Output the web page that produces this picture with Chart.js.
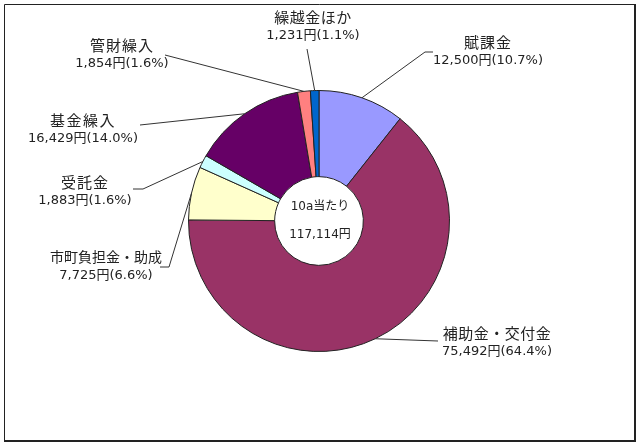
<!DOCTYPE html>
<html>
<head>
<meta charset="utf-8">
<script src="https://cdn.jsdelivr.net/npm/chart.js@4.4.0/dist/chart.umd.min.js"></script>
<style>
  html, body { margin: 0; padding: 0; background: #fff; }
  #wrap { width: 640px; height: 445px; position: relative; }
</style>
</head>
<body>
<div id="wrap"><canvas id="pie" width="640" height="445"></canvas></div>
<script>
// 10a当たり収入の内訳
const labels = ["賦課金", "補助金・交付金", "市町負担金・助成", "受託金", "基金繰入", "管財繰入", "繰越金ほか"];
const amounts = [12500, 75492, 7725, 1883, 16429, 1854, 1231];
const shares = ["10.7", "64.4", "6.6", "1.6", "14.0", "1.6", "1.1"];
const colors = ["#9999ff", "#993366", "#ffffcc", "#ccffff", "#660066", "#ff8080", "#0066cc"];
const centerLines = ["10a当たり", "117,114円"];

// where each label sits and how its leader line bends (from the label end)
const labelLayout = [
  { x: 488, y: 42, size: 15, gap: 1, path: [[433, 52], [425, 52]] },
  { x: 497, y: 333, size: 15, gap: 0.5, path: [[438, 341]] },
  { x: 106, y: 257, size: 14, gap: 0, path: [[160, 267], [169, 267]] },
  { x: 85, y: 182, size: 15, gap: 1, path: [[133, 189], [143, 189]] },
  { x: 83, y: 120, size: 15, gap: 1.5, path: [[140, 125]] },
  { x: 122, y: 45, size: 15, gap: 1, path: [[165, 55]] },
  { x: 313, y: 17, size: 15, gap: 0.5, path: [[307, 49]] },
];

function fmt(n) {
  return n.toLocaleString("en-US");
}

const calloutPlugin = {
  id: "callouts",
  afterDatasetsDraw(chart) {
    const ctx = chart.ctx;
    const arcs = chart.getDatasetMeta(0).data;
    ctx.save();

    // leader lines
    ctx.strokeStyle = "#333";
    ctx.lineWidth = 1;
    arcs.forEach((arc, i) => {
      const p = arc.getProps(["x", "y", "startAngle", "endAngle", "outerRadius"], true);
      const mid = (p.startAngle + p.endAngle) / 2;
      const ex = p.x + Math.cos(mid) * p.outerRadius;
      const ey = p.y + Math.sin(mid) * p.outerRadius;
      const pts = labelLayout[i].path;
      ctx.beginPath();
      ctx.moveTo(pts[0][0], pts[0][1]);
      for (let k = 1; k < pts.length; k++) ctx.lineTo(pts[k][0], pts[k][1]);
      ctx.lineTo(ex, ey);
      ctx.stroke();
    });

    // label texts
    ctx.fillStyle = "#222";
    ctx.textAlign = "center";
    ctx.textBaseline = "middle";
    labels.forEach((name, i) => {
      const L = labelLayout[i];
      ctx.letterSpacing = L.gap + "px";
      ctx.font = L.size + "px 'Noto Sans CJK JP', sans-serif";
      ctx.fillText(name, L.x, L.y);
      ctx.letterSpacing = "0px";
      ctx.font = "13px 'DejaVu Sans', 'Noto Sans CJK JP', sans-serif";
      ctx.fillText(fmt(amounts[i]) + "円(" + shares[i] + "%)", L.x, L.y + 19);
    });

    // centre text
    const c = arcs[0].getProps(["x", "y"], true);
    ctx.font = "12px 'DejaVu Sans', 'Noto Sans CJK JP', sans-serif";
    ctx.fillText(centerLines[0], c.x + 1, c.y - 14);
    ctx.fillText(centerLines[1], c.x + 1, c.y + 14);

    // frame
    ctx.strokeStyle = "#222";
    ctx.lineWidth = 1;
    ctx.beginPath();
    ctx.moveTo(4.5, 441);
    ctx.lineTo(4.5, 4.5);
    ctx.lineTo(635, 4.5);
    ctx.stroke();
    ctx.lineWidth = 2;
    ctx.beginPath();
    ctx.moveTo(635, 4);
    ctx.lineTo(635, 441);
    ctx.lineTo(4, 441);
    ctx.stroke();
    ctx.restore();
  }
};

new Chart(document.getElementById("pie"), {
  type: "doughnut",
  data: {
    labels: labels,
    datasets: [{
      data: amounts,
      backgroundColor: colors,
      borderColor: "#222",
      borderWidth: 1,
      borderJoinStyle: "miter",
    }],
  },
  options: {
    responsive: false,
    animation: false,
    cutout: "34%",
    rotation: 0,
    layout: { padding: { left: 188, right: 190, top: 90, bottom: 93 } },
    plugins: {
      legend: { display: false },
      tooltip: { enabled: false },
    },
  },
  plugins: [calloutPlugin],
});
</script>
</body>
</html>
